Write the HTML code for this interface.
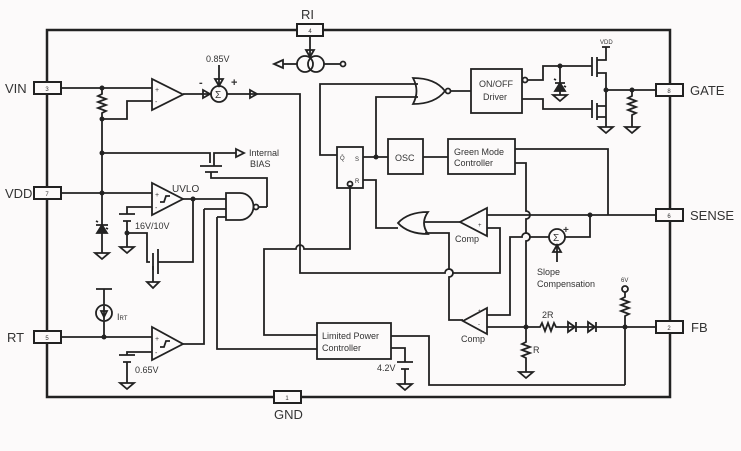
<!DOCTYPE html>
<html><head><meta charset="utf-8"><style>
html,body{margin:0;padding:0;background:#fcfafa;}
svg{display:block;font-family:"Liberation Sans",sans-serif;}
</style></head><body>
<svg width="741" height="451" viewBox="0 0 741 451" xmlns="http://www.w3.org/2000/svg">
<rect width="741" height="451" fill="#fcfafa"/>
<g fill="none" stroke="#222" stroke-width="1.8">
<rect x="47" y="30" width="623" height="367" stroke-width="2.5"/>
<g fill="#fcfafa" stroke-width="2">
<rect x="297" y="24" width="26" height="12"/>
<rect x="34" y="82" width="27" height="12"/>
<rect x="34" y="187" width="27" height="12"/>
<rect x="34" y="331" width="27" height="12"/>
<rect x="274" y="391" width="27" height="12"/>
<rect x="656" y="84" width="27" height="12"/>
<rect x="656" y="209" width="27" height="12"/>
<rect x="656" y="321" width="27" height="12"/>
</g>
<path d="M310 36V58"/><path d="M306 50L310 57L314 50Z"/>
<circle cx="305" cy="64" r="8"/><circle cx="316" cy="64" r="8"/>
<path d="M297 64H283"/><path d="M283 60L274 64L283 68Z"/>
<path d="M324 64H340"/><circle cx="343" cy="64" r="2.5"/>
<path d="M61 88H152"/><path d="M102 88V94l-4 2 8 3-8 3 8 3-8 3 8 3-4 2V119H127V101H152"/>
<path d="M152 79V110L183 94.5Z"/>
<path d="M183 94H211"/><path d="M203 90L210 94L203 98Z"/>
<circle cx="219" cy="94" r="8"/>
<path d="M219 65V86"/><path d="M215 79L219 86L223 79Z"/>
<path d="M227 94H300V273H445a4 4 0 0 1 8 0H500V228H487"/>
<path d="M250 90L257 94L250 98Z"/>
<path d="M102 119V225"/>
<path d="M102 153H210V163"/><path d="M200 166H222M205 172H218M211 172V178H267V207"/>
<path d="M214 166V153H236"/><path d="M236 149L244 153L236 157Z"/>
<path d="M96 225H108M98 222l-2-1M106 228l2 1"/><path d="M97 233L102 225L107 233Z" fill="#222"/>
<path d="M102 233V253"/><path d="M95 253H109L102 259Z"/>
<path d="M61 193H152"/>
<path d="M152 183V215L183 199Z"/>
<path d="M160 202h4l2-6h4"/>
<path d="M183 199H226"/>
<path d="M152 207H127V214M119 214H135M123 221H131M127 221V247M127 233H147V252"/>
<path d="M120 247H134L127 253Z"/>
<path d="M147 252V262H150M153 253V270M158 249V274M158 262H193V199"/>
<path d="M153 266V282"/><path d="M147 282H159L153 288Z"/>
<path d="M226 193H240A13.5 13.5 0 0 1 240 220H226Z"/><circle cx="256" cy="207" r="2.5"/>
<path d="M259 207H267"/>
<path d="M204 209H226M204 209V344H183"/>
<path d="M217 217H226M217 217V349H317"/>
<path d="M61 337H152"/><path d="M96 289H112M104 289V305"/>
<circle cx="104" cy="313" r="8"/><path d="M104 306V320"/><path d="M101 311L104 317L107 311Z"/>
<path d="M104 321V337"/>
<path d="M152 327V360L183 344Z"/><path d="M160 347h4l2-6h4"/>
<path d="M152 352H127V355M119 355H135M123 362H131M127 362V383"/>
<path d="M120 383H134L127 389Z"/>
<rect x="317" y="323" width="74" height="36"/>
<path d="M317 335H264V249H296a4 4 0 0 1 8 0H350V185"/>
<path d="M391 348H405V362M397 362H413M401 369H409M405 369V384"/>
<path d="M398 384H412L405 390Z"/>
<path d="M391 336H429V385H625"/>
<rect x="337" y="147" width="26" height="41"/>
<circle cx="350" cy="184" r="2.5"/>
<path d="M337 155H320V84H418"/>
<path d="M363 157H388M376 157V97H418"/>
<path d="M363 180H376V228H398"/>
<path d="M413 78Q420 91 413 104Q435 104 445 91Q435 78 413 78Z"/><circle cx="448" cy="91" r="2.5"/>
<path d="M451 91H471"/>
<rect x="471" y="69" width="51" height="44"/><circle cx="525" cy="80" r="2.5"/>
<path d="M528 80H543V66H592M560 66V95"/>
<path d="M555 83H565M556 80l-2-1M564 86l2 1"/><path d="M555 91L560 83L565 91Z" fill="#222"/>
<path d="M553 95H567L560 101Z"/>
<path d="M522 99H543V109H592"/>
<path d="M592 57V76M597 57V77M597 60H606V47M602 47H610M597 73H606V118M597 103V120M592 100V118M597 106H606M597 117H606V127"/>
<path d="M599 127H613L606 133Z"/>
<path d="M606 90H656M632 90V96l-4 2 8 3-8 3 8 3-8 3 8 3-4 2V127"/>
<path d="M625 127H639L632 133Z"/>
<rect x="388" y="139" width="35" height="35"/>
<path d="M423 157H448"/>
<rect x="448" y="139" width="67" height="35"/>
<path d="M515 149H608V215"/>
<path d="M515 163H526V211a4 4 0 0 1 0 8V233a4 4 0 0 1 0 8V327"/>
<!-- OR pointing left -->
<path d="M398 223Q408 212 428 212Q420 223 428 234Q408 234 398 223Z"/>
<path d="M424 222H460"/>
<path d="M487 208V236L460 222Z"/>
<path d="M487 215H656"/>
<path d="M425 233H449V269a4 4 0 0 1 0 8V320H463"/>
<path d="M487 308V334L463 321Z"/>
<path d="M487 315H510V237H522a4 4 0 0 1 8 0H549"/>
<circle cx="557" cy="237" r="8"/>
<path d="M565 237H590V215"/>
<path d="M557 245V262"/><path d="M553 252L557 245L561 252Z"/>
<path d="M487 327H540l2-4 3 8 3-8 3 8 3-8 2 4H625H656"/>
<path d="M576 322V332M575 327L568 322V332Z"/>
<path d="M596 322V332M595 327L588 322V332Z"/>
<path d="M526 327V342l-4 2 8 3-8 3 8 3-8 3 4 2V372"/>
<path d="M519 372H533L526 378Z"/>
<circle cx="625" cy="289" r="3"/>
<path d="M625 292V297l-4 2 8 3-8 3 8 3-8 3 8 3-4 2V385"/>
</g>
<g fill="#222">
<circle cx="102" cy="88" r="2.5"/><circle cx="102" cy="119" r="2.5"/><circle cx="102" cy="153" r="2.5"/>
<circle cx="102" cy="193" r="2.5"/><circle cx="193" cy="199" r="2.5"/><circle cx="127" cy="233" r="2.5"/>
<circle cx="104" cy="337" r="2.5"/><circle cx="376" cy="157" r="2.5"/><circle cx="590" cy="215" r="2.5"/>
<circle cx="632" cy="90" r="2.5"/><circle cx="606" cy="90" r="2.5"/><circle cx="560" cy="66" r="2.5"/>
<circle cx="526" cy="327" r="2.5"/><circle cx="625" cy="327" r="2.5"/>
</g>
<g fill="#333" font-size="12">
<text x="301" y="19" font-size="13">RI</text>
<text x="5" y="93" font-size="13">VIN</text>
<text x="5" y="198" font-size="13">VDD</text>
<text x="7" y="342" font-size="13">RT</text>
<text x="274" y="419" font-size="13">GND</text>
<text x="690" y="95" font-size="13">GATE</text>
<text x="690" y="220" font-size="13">SENSE</text>
<text x="691" y="332" font-size="13">FB</text>
<g font-size="6" text-anchor="middle">
<text x="310" y="33">4</text><text x="47" y="91">3</text><text x="47" y="196">7</text><text x="47" y="340">5</text>
<text x="287" y="400">1</text><text x="669" y="93">8</text><text x="669" y="218">6</text><text x="669" y="330">2</text>
</g>
<text x="206" y="62" font-size="9">0.85V</text>
<text x="199" y="86" font-size="11" font-weight="bold">-</text>
<text x="231" y="86" font-size="11" font-weight="bold">+</text>
<text x="215" y="98" font-size="10">Σ</text>
<text x="553" y="241" font-size="10">Σ</text>
<text x="563" y="233" font-size="10" font-weight="bold">+</text>
<text x="155" y="92" font-size="7">+</text><text x="155" y="104" font-size="7">-</text>
<text x="155" y="197" font-size="7">+</text><text x="155" y="210" font-size="7">-</text>
<text x="155" y="341" font-size="7">+</text><text x="155" y="355" font-size="7">-</text>
<text x="249" y="156" font-size="9">Internal</text>
<text x="250" y="167" font-size="9">BIAS</text>
<text x="172" y="192" font-size="10">UVLO</text>
<text x="135" y="229" font-size="9">16V/10V</text>
<text x="117" y="320" font-size="9">I<tspan font-size="6">RT</tspan></text>
<text x="135" y="373" font-size="9">0.65V</text>
<text x="322" y="339" font-size="9">Limited Power</text>
<text x="322" y="351" font-size="9">Controller</text>
<text x="377" y="371" font-size="9">4.2V</text>
<text x="340" y="160" font-size="6">Q̄</text><text x="355" y="161" font-size="6">S</text><text x="355" y="183" font-size="6">R</text>
<text x="395" y="161" font-size="9">OSC</text>
<text x="454" y="155" font-size="9">Green Mode</text>
<text x="454" y="166" font-size="9">Controller</text>
<text x="479" y="87" font-size="9">ON/OFF</text>
<text x="483" y="100" font-size="9">Driver</text>
<text x="600" y="44" font-size="6">VDD</text>
<text x="455" y="242" font-size="9">Comp</text>
<text x="461" y="342" font-size="9">Comp</text>
<text x="537" y="275" font-size="9">Slope</text>
<text x="537" y="287" font-size="9">Compensation</text>
<text x="542" y="318" font-size="9">2R</text>
<text x="533" y="353" font-size="9">R</text>
<text x="621" y="282" font-size="6">6V</text>
<text x="478" y="213" font-size="6">-</text><text x="478" y="227" font-size="6">+</text>
<text x="478" y="313" font-size="6">+</text><text x="478" y="326" font-size="6">-</text>
</g>
</svg>
</body></html>
